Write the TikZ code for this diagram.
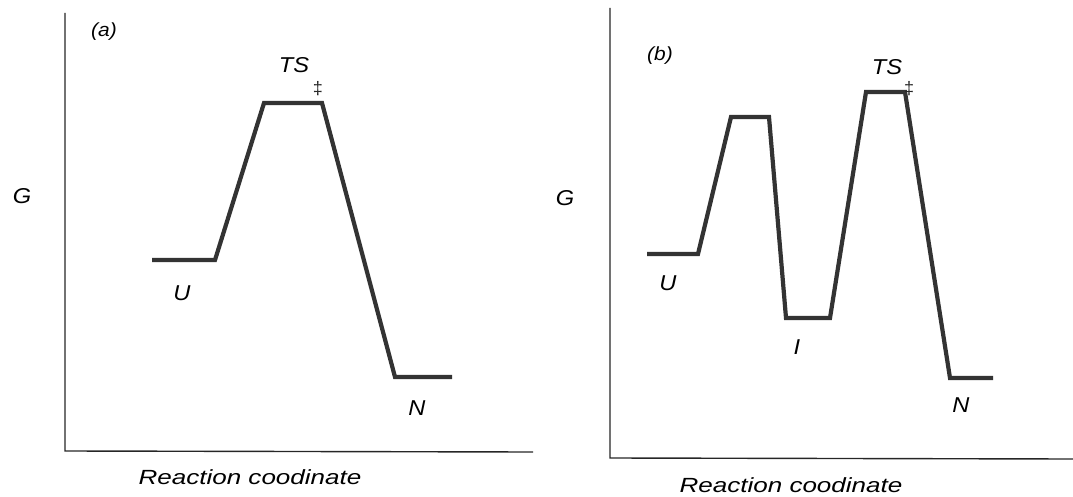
\documentclass[tikz,border=0pt]{standalone}
\usepackage{fontspec}
\setmainfont{Liberation Sans}
\newfontfamily\lblfont{Liberation Sans}[FakeStretch=1.1]
\newfontfamily\rcfont{Liberation Sans}[FakeStretch=1.27]
\newfontfamily\dagfont{Liberation Sans}
\begin{document}
\begin{tikzpicture}[x=1pt,y=-1pt,
  axis/.style={line width=1.4pt,color=black!85},
  curve/.style={line width=4.2pt,color=black!80,line join=miter},
  lab/.style={font=\lblfont\fontsize{21.5}{23}\selectfont\itshape,inner sep=0pt,text=black},
  tag/.style={font=\lblfont\fontsize{19}{21}\selectfont\itshape,inner sep=0pt,text=black},
  dag/.style={font=\dagfont\fontsize{18}{20}\selectfont,inner sep=0pt,text=black!85},
  xlab/.style={font=\rcfont\fontsize{20.5}{22}\selectfont\itshape,inner sep=0pt,text=black}]
\useasboundingbox (0,0) rectangle (1073,497);
% panel (a)
\coordinate (a0) at (65,13);
\coordinate (ao) at (65,451);
\coordinate (ax) at (533,452);
\draw[axis] (a0) -- (ao) -- (ax);
\coordinate (a1) at (152,260);
\coordinate (a2) at (215,260);
\coordinate (a3) at (264,103);
\coordinate (a4) at (322,103);
\coordinate (a5) at (395,377);
\coordinate (a6) at (452,377);
\draw[curve] (a1) -- (a2) -- (a3) -- (a4) -- (a5) -- (a6);
\node[tag] (atag) at (104,32) {(a)};
\node[lab] (aG) at (22,196) {G};
\node[lab] (aTS) at (294,65) {TS};
\node[dag] (adag) at (318,89) {‡};
\node[lab] (aU) at (182,293) {U};
\node[lab] (aN) at (417,408) {N};
\node[xlab] (aRC) at (250,477) {Reaction coodinate};
% panel (b)
\coordinate (b0) at (610,8);
\coordinate (bo) at (610,458);
\coordinate (bx) at (1073,459);
\draw[axis] (b0) -- (bo) -- (bx);
\coordinate (b1) at (647,254);
\coordinate (b2) at (698,254);
\coordinate (b3) at (731,117);
\coordinate (b4) at (769,117);
\coordinate (b5) at (786,318);
\coordinate (b6) at (830,318);
\coordinate (b7) at (866,92);
\coordinate (b8) at (905,92);
\coordinate (b9) at (950,378);
\coordinate (b10) at (993,378);
\draw[curve] (b1) -- (b2) -- (b3) -- (b4) -- (b5) -- (b6) -- (b7) -- (b8) -- (b9) -- (b10);
\node[tag] (btag) at (660,56) {(b)};
\node[lab] (bG) at (565,198) {G};
\node[lab] (bTS) at (887,67) {TS};
\node[dag] (bdag) at (909,89) {‡};
\node[lab] (bU) at (668,283) {U};
\node[lab] (bI) at (797,347) {I};
\node[lab] (bN) at (961,405) {N};
\node[xlab] (bRC) at (791,485) {Reaction coodinate};
\end{tikzpicture}
\end{document}
